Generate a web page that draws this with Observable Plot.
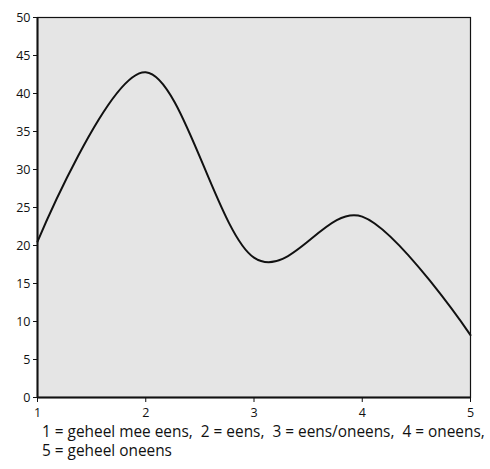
<!DOCTYPE html>
<html><head><meta charset="utf-8">
<script src="https://cdn.jsdelivr.net/npm/d3@7"></script>
<script src="https://cdn.jsdelivr.net/npm/@observablehq/plot@0.6"></script>
<style>
body{margin:0;background:#fff;font-family:"Open Sans",sans-serif;}
#chart svg{display:block;}
#cap{margin:-6px 0 0 42px;font-size:15.4px;line-height:19px;color:#111;width:448px;white-space:nowrap;position:relative;}
</style></head><body>
<div id="chart"></div>
<div id="cap">1 = geheel mee eens,&nbsp; 2 = eens,&nbsp; 3 = eens/oneens,&nbsp; 4 = oneens,<br>5 = geheel oneens</div>
<script>
const categories = [1, 2, 3, 4, 5];
const values = [20.5, 42.8, 18.4, 23.8, 8.2];
const yTicks = [0, 5, 10, 15, 20, 25, 30, 35, 40, 45, 50];
const data = categories.map((c, i) => ({x: c, y: values[i]}));
const chart = Plot.plot({
  width: 490, height: 428,
  marginLeft: 37, marginRight: 20, marginTop: 17, marginBottom: 31,
  style: {fontFamily: "Open Sans, sans-serif", fontSize: "12.5px", color: "#111", background: "#fff"},
  x: {domain: [1, 5], label: null},
  y: {domain: [0, 50], label: null},
  marks: [
    Plot.frame({fill: "#e5e5e5", stroke: "#111", strokeWidth: 1.2}),
    Plot.axisX(categories, {tickSize: 5, tickPadding: 6, tickFormat: d => d, label: null}),
    Plot.axisY(yTicks, {tickSize: 4, tickPadding: 3, label: null}),
    Plot.ruleX([1], {stroke: "#111", strokeWidth: 2}),
    Plot.ruleY([0], {stroke: "#111", strokeWidth: 2}),
    Plot.line(data, {x: "x", y: "y", curve: "cardinal", stroke: "#111", strokeWidth: 2})
  ]
});
document.getElementById("chart").appendChild(chart);
</script></body></html>
